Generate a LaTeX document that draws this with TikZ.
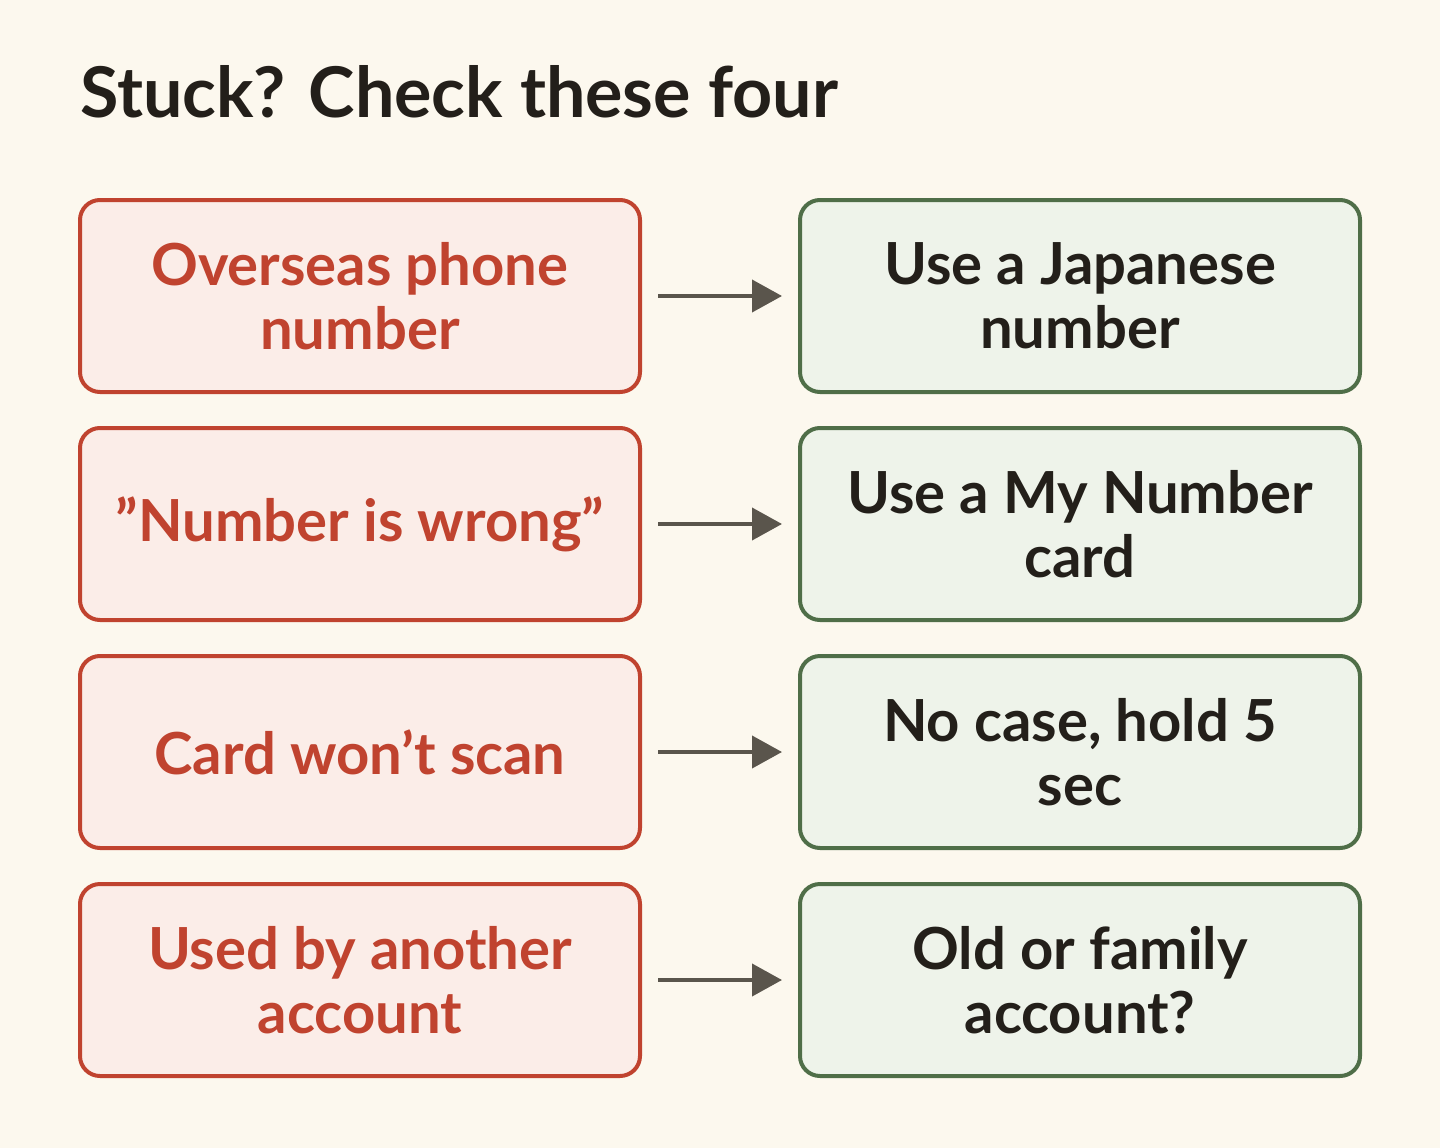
\documentclass[tikz,border=0pt]{standalone}
\usepackage{fontspec}
\setmainfont{Lato}
\usetikzlibrary{arrows.meta}
\definecolor{bg}{HTML}{FCF8EE}
\definecolor{rb}{HTML}{C0432F}
\definecolor{rf}{HTML}{FBEDE8}
\definecolor{gb}{HTML}{4F6E48}
\definecolor{gf}{HTML}{EEF3EA}
\definecolor{ar}{HTML}{5A554C}
\definecolor{tx}{HTML}{231F1A}
\begin{document}
\begin{tikzpicture}[x=1pt,y=-1pt,
  box/.style={rounded corners=20pt,line width=4pt,minimum width=560pt,minimum height=192pt,align=center,font=\fontsize{58}{64}\selectfont\bfseries},
  prob/.style={box,draw=rb,fill=rf,text=rb},
  fix/.style={box,draw=gb,fill=gf,text=tx},
  arr/.style={draw=ar,line width=4pt,-{Triangle[length=30pt,width=32pt]}}]
\fill[bg] (0,0) rectangle (1440,1148);
\useasboundingbox (0,0) rectangle (1440,1148);
\node[anchor=base west,text=tx,font=\fontsize{70}{76}\selectfont\bfseries,inner sep=0] (title) at (80,117) {Stuck? Check these four};
\node[prob] (p1) at (360,296) {Overseas phone\\number};
\node[prob] (p2) at (360,524) {\symbol{34}Number is wrong\symbol{34}};
\node[prob] (p3) at (360,752) {Card won\symbol{39}t scan};
\node[prob] (p4) at (360,980) {Used by another\\account};
\node[fix] (f1) at (1080,296) {Use a Japanese\\number};
\node[fix] (f2) at (1080,524) {Use a My Number\\card};
\node[fix] (f3) at (1080,752) {No case, hold 5\\sec};
\node[fix] (f4) at (1080,980) {Old or family\\account?};
\foreach \i in {1,...,4}{
  \draw[arr] ([xshift=16pt]p\i.east) -- ([xshift=-16pt]f\i.west);
}
\end{tikzpicture}
\end{document}
